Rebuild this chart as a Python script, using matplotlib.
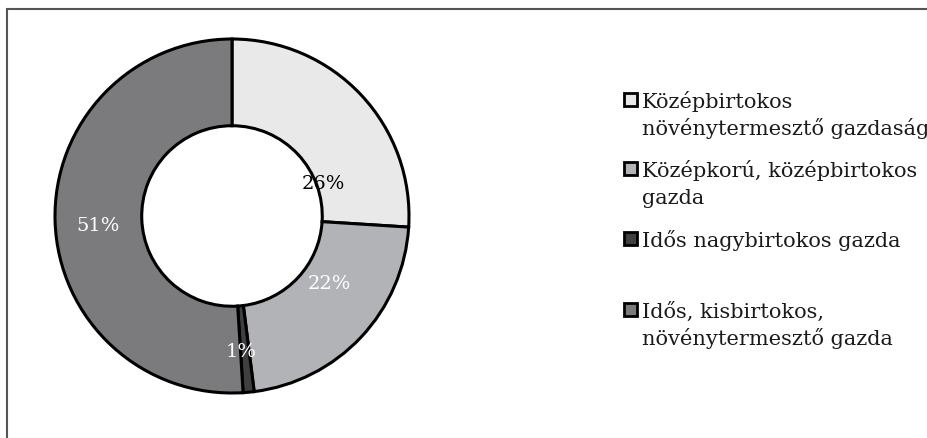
import matplotlib
matplotlib.use("Agg")
import matplotlib.pyplot as plt
from matplotlib.patches import Rectangle

categories = ["Középbirtokos\nnövénytermesztő gazdaság",
              "Középkorú, középbirtokos\ngazda",
              "Idős nagybirtokos gazda",
              "Idős, kisbirtokos,\nnövénytermesztő gazda"]
values = [26, 22, 1, 51]
pct_labels = ["26%", "22%", "1%", "51%"]
colors = ["#e9e9e9", "#b1b3b6", "#3f3f3f", "#7b7b7e"]
label_colors = ["black", "white", "white", "white"]
label_pos = [(0.514, 0.186), (0.548, -0.379), (0.051, -0.763), (-0.757, -0.051)]
legend_baselines = [108, 177, 247, 318]  # pixels from top

W, H = 927, 439
fig = plt.figure(figsize=(W / 100, H / 100), dpi=100)
FONT = "DejaVu Serif"

# frame (cropped at right and bottom)
fig.add_artist(Rectangle((7.5 / W, -0.1), 1.2, (H - 9.5) / H + 0.1,
                         transform=fig.transFigure, fill=False,
                         edgecolor="#555555", linewidth=1.5))

cx, cy, R = 232, 217, 177
ax = fig.add_axes([(cx - R) / W, (H - cy - R) / H, 2 * R / W, 2 * R / H])
ax.pie(values, colors=colors, startangle=90, counterclock=False, radius=1,
       wedgeprops=dict(width=0.49, edgecolor="black", linewidth=2.2))
ax.set_xlim(-1, 1)
ax.set_ylim(-1, 1)
ax.set_aspect("equal")
ax.axis("off")

for lab, (x, y), c in zip(pct_labels, label_pos, label_colors):
    ax.text(x, y, lab, ha="center", va="center", color=c, fontsize=14, family=FONT)

# legend
for cat, col, base in zip(categories, colors, legend_baselines):
    sq = 13
    fig.add_artist(Rectangle((624 / W, (H - (base - 7.5) - sq / 2) / H), sq / W, sq / H,
                             transform=fig.transFigure, facecolor=col,
                             edgecolor="black", linewidth=2.0))
    for i, line in enumerate(cat.split("\n")):
        fig.text(642 / W, (H - base - i * 27) / H, line, ha="left", va="baseline",
                 fontsize=15, family=FONT, color="#1a1a1a")

fig.savefig("out.png", dpi=100)
